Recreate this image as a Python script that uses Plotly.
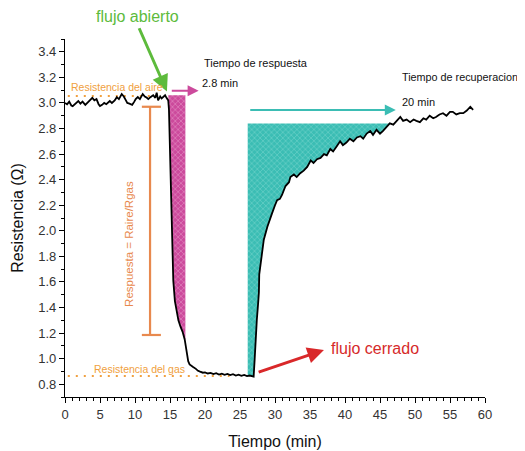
import plotly.graph_objects as go

# ---------------- data ----------------
t_aire = [0.0, 0.3, 0.6, 0.9, 1.1, 1.4, 1.7, 1.9, 2.2, 2.5,
          2.9, 3.2, 3.5, 3.9, 4.2, 4.5, 4.8, 5.0, 5.3, 5.6,
          5.9, 6.1, 6.4, 6.7, 7.1, 7.4, 7.7, 8.1, 8.4, 8.7,
          8.9, 9.2, 9.6, 9.9, 10.1, 10.4, 10.7, 11.1, 11.4, 11.7,
          11.9, 12.2, 12.6, 12.9, 13.1, 13.3, 13.6, 13.8, 14.0, 14.3,
          14.5, 14.65]
r_aire = [3.00, 2.99, 3.01, 2.98, 2.975, 2.99, 3.00, 3.015, 2.995, 3.01,
          2.985, 3.00, 3.02, 3.04, 3.02, 3.03, 2.99, 2.975, 2.985, 3.00,
          2.99, 3.00, 3.015, 3.00, 3.02, 3.045, 3.03, 3.07, 3.05, 3.02,
          3.00, 2.995, 2.985, 3.01, 3.03, 3.046, 3.03, 3.07, 3.05, 3.04,
          3.03, 3.045, 3.06, 3.04, 3.08, 3.02, 3.05, 3.035, 3.046, 3.06,
          3.04, 3.03]

t_caida = [14.75, 14.85, 15.0, 15.25, 15.47, 15.7, 16.0, 16.2, 16.5, 16.8,
           17.1, 17.3, 17.45, 17.6, 17.8, 18.0, 18.3, 18.7, 19.0, 19.3, 19.7]
r_caida = [3.02, 2.95, 2.66, 2.14, 1.61, 1.45, 1.35, 1.30, 1.25, 1.21,
           1.15, 1.07, 1.02, 0.98, 0.955, 0.945, 0.935, 0.92, 0.905, 0.898, 0.89]

t_gas = [20.0, 20.4, 20.8, 21.2, 21.6, 22.0, 22.4, 22.8, 23.2, 23.6,
         24.0, 24.4, 24.8, 25.2, 25.6, 26.0, 26.4, 26.8, 26.95]
r_gas = [0.893, 0.884, 0.889, 0.879, 0.886, 0.876, 0.883, 0.874, 0.880, 0.871,
         0.878, 0.868, 0.875, 0.865, 0.872, 0.863, 0.868, 0.858, 0.86]

t_recup = [27.1, 27.2, 27.4, 27.6, 27.7, 27.75, 28.0, 28.4, 28.9, 29.3,
           29.6, 30.0, 30.3, 30.7, 31.0, 31.5, 32.0, 32.2, 32.7, 33.1,
           33.6, 34.1, 34.6, 35.1, 35.5, 36.0, 36.5, 37.0, 37.4, 37.9,
           38.3, 38.8, 39.3, 39.7, 40.2, 40.7, 41.2, 41.7, 42.2, 42.6,
           43.1, 43.6, 44.0, 44.5, 45.0, 45.4, 45.9, 46.4, 46.9, 47.4,
           47.9, 48.3, 48.8, 49.3, 49.8, 50.2, 50.7, 51.2, 51.6, 52.1,
           52.6, 53.0, 53.5, 54.0, 54.5, 55.0, 55.4, 55.9, 56.4, 56.9,
           57.4, 57.9, 58.1, 58.3]
r_recup = [1.00, 1.15, 1.30, 1.44, 1.52, 1.66, 1.78, 1.93, 2.03, 2.10,
           2.14, 2.20, 2.24, 2.25, 2.28, 2.35, 2.38, 2.42, 2.44, 2.42,
           2.45, 2.47, 2.50, 2.55, 2.53, 2.56, 2.57, 2.60, 2.59, 2.64,
           2.62, 2.66, 2.70, 2.67, 2.69, 2.72, 2.70, 2.73, 2.74, 2.72,
           2.76, 2.78, 2.75, 2.79, 2.76, 2.78, 2.81, 2.84, 2.83, 2.86,
           2.89, 2.86, 2.87, 2.85, 2.87, 2.86, 2.85, 2.88, 2.87, 2.90,
           2.88, 2.89, 2.91, 2.92, 2.90, 2.93, 2.93, 2.91, 2.92, 2.92,
           2.94, 2.97, 2.96, 2.945]

# reference levels / windows
r_aire_nivel = 3.054          # dotted "Resistencia del aire"
t_aire_nivel = [0.4, 13.8]
r_gas_nivel = 0.864           # dotted "Resistencia del gas"
t_gas_nivel = [0.4, 23.5]
t_respuesta = [14.75, 17.2]   # magenta window
r_respuesta_top = 3.06
t_recuperacion = [26.1, 46.4]  # teal window
r_recuperacion_top = 2.84
t_barra = 12.15               # orange response bar
r_barra = [2.97, 1.185]
barra_cap = [10.98, 13.7]

x_ticks = [0, 5, 10, 15, 20, 25, 30, 35, 40, 45, 50, 55, 60]

# ---------------- build ----------------
t_all = t_aire + t_caida + t_gas + t_recup
r_all = r_aire + r_caida + r_gas + r_recup

FONT = "Arial, Liberation Sans, sans-serif"
ORANGE = "#F0A040"
BAR = "#E8894E"
TEAL = "#3BBDB4"
MAGENTA = "#CC4A9C"

fig = go.Figure()

# magenta response region (between curve and top level)
mx = [t for t in t_all if t_respuesta[0] <= t <= 17.1]
my = [r for t, r in zip(t_all, r_all) if t_respuesta[0] <= t <= 17.1]
poly_x = [t_respuesta[0]] + mx + [t_respuesta[1], t_respuesta[1], t_respuesta[0]]
poly_y = [r_respuesta_top] + my + [my[-1], r_respuesta_top, r_respuesta_top]
fig.add_trace(go.Scatter(
    x=poly_x, y=poly_y, mode="lines", line=dict(width=0, color=MAGENTA),
    fill="toself", fillcolor=MAGENTA,
    fillpattern=dict(shape="x", bgcolor=MAGENTA, fgcolor="#F7C8E4", size=4, solidity=0.3),
    hoverinfo="skip", showlegend=False))

# teal recovery region
tx = [t for t in t_all if t_recuperacion[0] <= t <= t_recuperacion[1]]
ty = [min(r, r_recuperacion_top) for t, r in zip(t_all, r_all) if t_recuperacion[0] <= t <= t_recuperacion[1]]
poly_x = [t_recuperacion[0], t_recuperacion[0]] + tx + [t_recuperacion[0]]
poly_y = [r_recuperacion_top, ty[0]] + ty + [r_recuperacion_top]
fig.add_trace(go.Scatter(
    x=poly_x, y=poly_y, mode="lines", line=dict(width=0, color=TEAL),
    fill="toself", fillcolor=TEAL,
    fillpattern=dict(shape="x", bgcolor=TEAL, fgcolor="#B5ECE6", size=4, solidity=0.25),
    hoverinfo="skip", showlegend=False))

# dotted reference levels
fig.add_trace(go.Scatter(x=t_aire_nivel, y=[r_aire_nivel] * 2, mode="lines",
                         line=dict(color=ORANGE, width=2, dash="2px,6px"),
                         hoverinfo="skip", showlegend=False))
fig.add_trace(go.Scatter(x=t_gas_nivel, y=[r_gas_nivel] * 2, mode="lines",
                         line=dict(color=ORANGE, width=2, dash="2px,6px"),
                         hoverinfo="skip", showlegend=False))

# orange response bar with caps
bx = [t_barra, t_barra, None, barra_cap[0], barra_cap[1], None, barra_cap[0], barra_cap[1]]
by = [r_barra[0], r_barra[1], None, r_barra[0], r_barra[0], None, r_barra[1], r_barra[1]]
fig.add_trace(go.Scatter(x=bx, y=by, mode="lines", line=dict(color=BAR, width=2.2),
                         hoverinfo="skip", showlegend=False))

# main curve
fig.add_trace(go.Scatter(x=t_all, y=r_all, mode="lines",
                         line=dict(color="black", width=1.8),
                         hoverinfo="skip", showlegend=False))

ann = []
# arrows
ann.append(dict(x=14.56, y=3.09, ax=10.5, ay=3.596, xref="x", yref="y", axref="x", ayref="y",
                showarrow=True, arrowhead=2, arrowsize=1.1, arrowwidth=3, arrowcolor="#5DBB3C", text=""))
ann.append(dict(x=36.99, y=1.068, ax=27.45, ay=0.89, xref="x", yref="y", axref="x", ayref="y",
                showarrow=True, arrowhead=2, arrowsize=1.1, arrowwidth=3, arrowcolor="#D9282A", text=""))
ann.append(dict(x=19.09, y=3.096, ax=15.04, ay=3.096, xref="x", yref="y", axref="x", ayref="y",
                showarrow=True, arrowhead=2, arrowsize=1.1, arrowwidth=2, arrowcolor=MAGENTA, text=""))
ann.append(dict(x=47.26, y=2.945, ax=26.25, ay=2.945, xref="x", yref="y", axref="x", ayref="y",
                showarrow=True, arrowhead=2, arrowsize=1.1, arrowwidth=2, arrowcolor=TEAL, text=""))

# texts
def txt(x, y, s, color, size, xanchor="left", angle=0, yref="y"):
    return dict(x=x, y=y, xref="x", yref=yref, text=s, showarrow=False, xanchor=xanchor,
                yanchor="middle", textangle=angle, font=dict(family=FONT, color=color, size=size))

ann.append(txt(10.3, 1.0615, "flujo abierto", "#5DBB3C", 16, "center", yref="paper"))
ann.append(txt(37.66, 1.083, "flujo cerrado", "#D62A2A", 16, "left"))
ann.append(txt(19.5, 3.312, "Tiempo de respuesta", "#111111", 11))
ann.append(txt(19.3, 3.156, "2.8 min", "#111111", 11))
ann.append(txt(47.9, 3.203, "Tiempo de recuperacion", "#111111", 10.8))
ann.append(txt(47.9, 3.007, "20 min", "#111111", 11))
ann.append(txt(7.44, 3.125, "Resistencia del aire", ORANGE, 10.5, "center"))
ann.append(txt(10.6, 0.919, "Resistencia del gas", ORANGE, 10.5, "center"))
ann.append(txt(9.05, 1.90, "Respuesta = Raire/Rgas", BAR, 11.5, "center", -90))

# page body has an 8px margin, so the figure is sized to the visible area
fig.update_layout(
    width=517, height=443,
    margin=dict(l=57, r=40, t=31, b=54),
    paper_bgcolor="white", plot_bgcolor="white",
    font=dict(family=FONT, color="#222222"),
    annotations=ann,
    xaxis=dict(range=[0, 60], tickvals=x_ticks, showline=True, linecolor="black", linewidth=1.2,
               ticks="outside", ticklen=5, tickcolor="black", showgrid=False, zeroline=False,
               automargin=False,
               minor=dict(dtick=1, ticks="outside", ticklen=3, tickcolor="black"),
               tickfont=dict(size=13, color="#333333", family=FONT),
               title=dict(text="Tiempo (min)", font=dict(size=16, color="#111111", family=FONT), standoff=15)),
    yaxis=dict(range=[0.7, 3.5], dtick=0.2, tickformat=".1f", showline=True, linecolor="black",
               linewidth=1.2, ticks="outside", ticklen=5, tickcolor="black", showgrid=False,
               zeroline=False, automargin=False,
               minor=dict(dtick=0.1, ticks="outside", ticklen=3, tickcolor="black"),
               tickfont=dict(size=13, color="#333333", family=FONT),
               title=dict(text="Resistencia (Ω)", font=dict(size=16, color="#111111", family=FONT), standoff=10)),
)

fig.write_html("out.html")
